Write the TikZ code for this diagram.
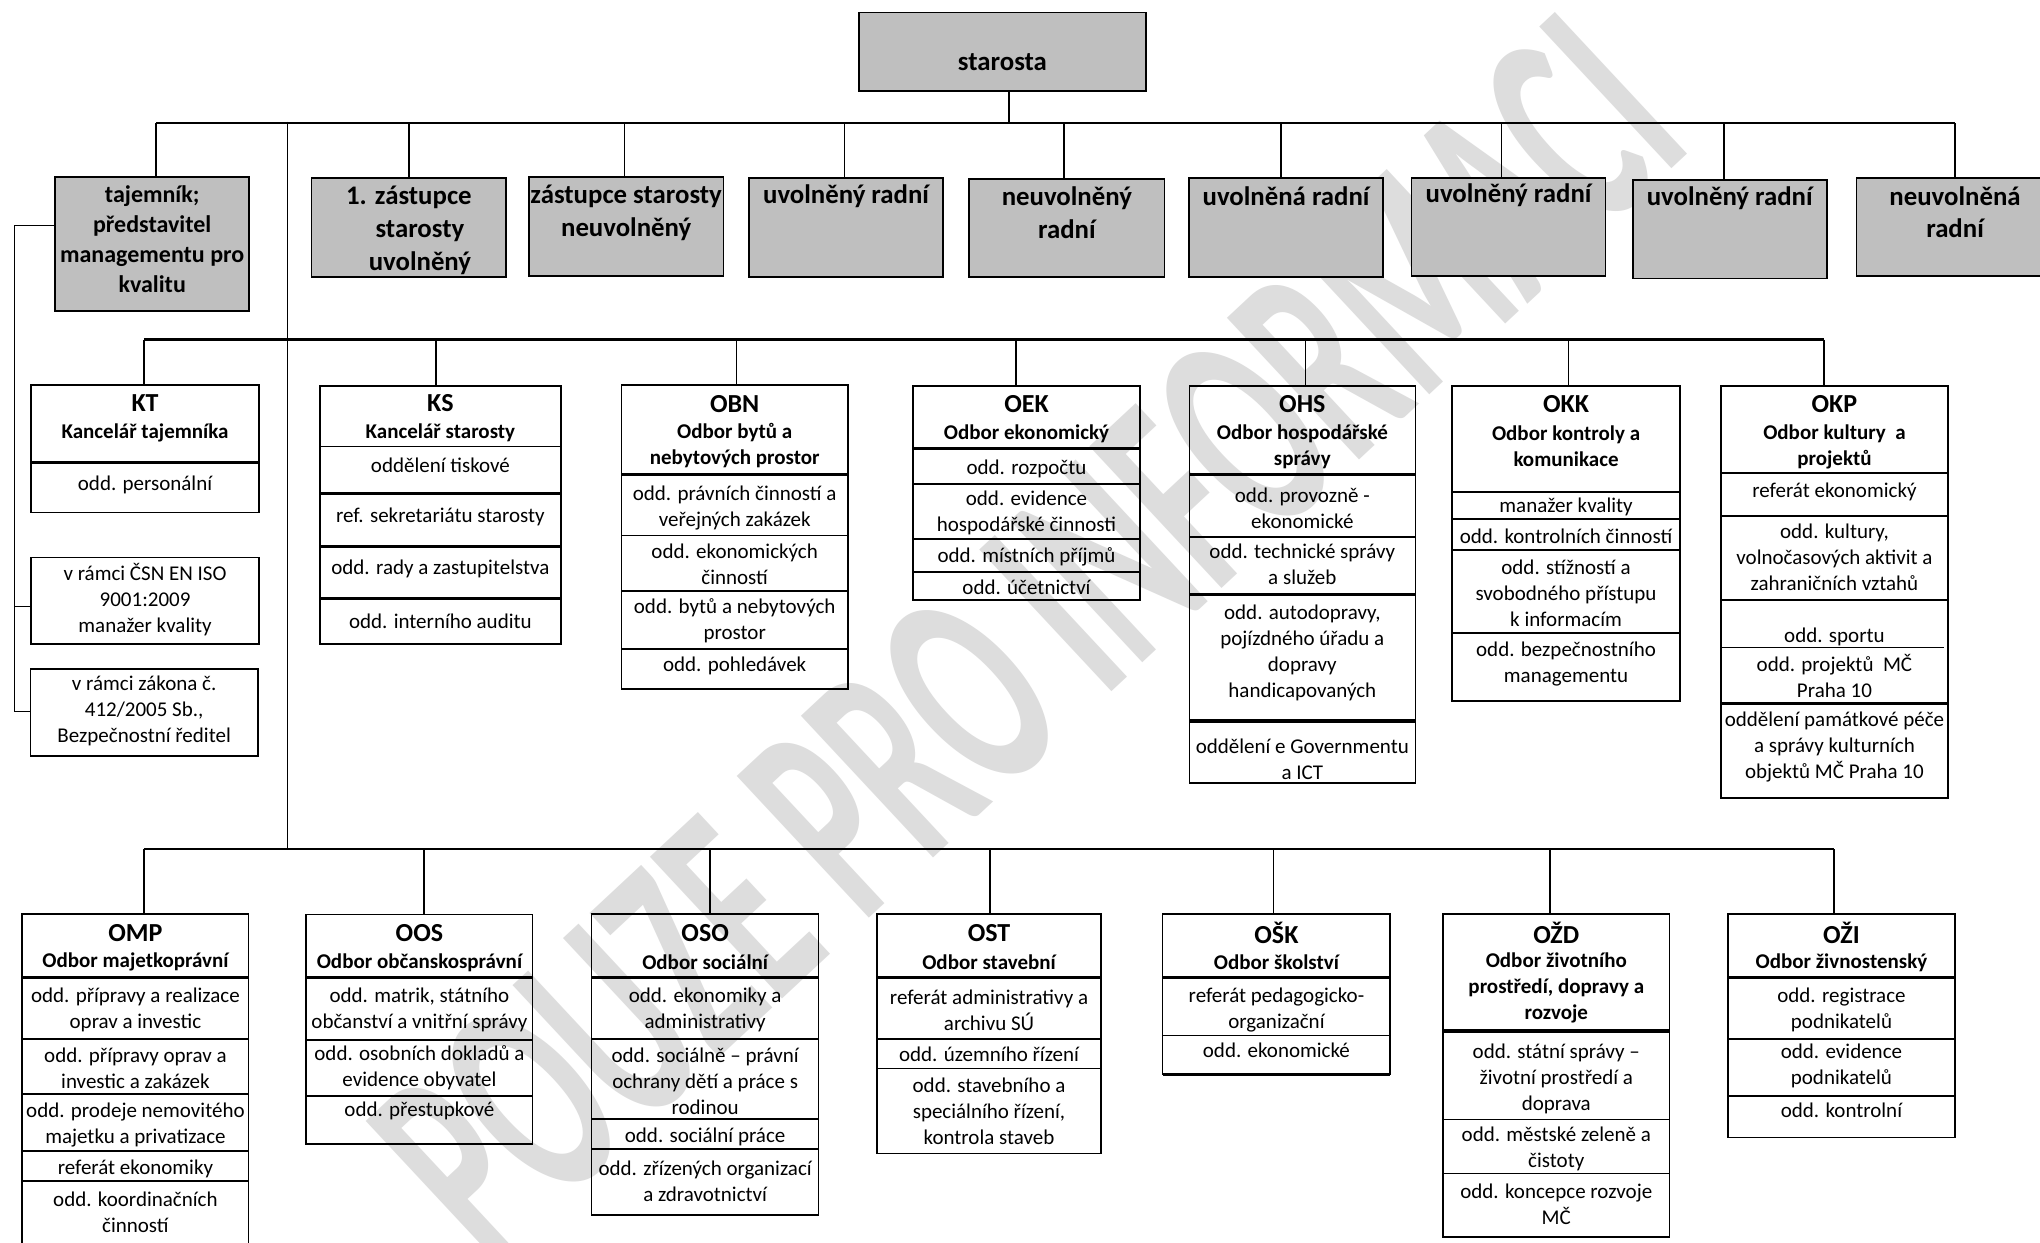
\documentclass[tikz,border=0pt]{standalone}
\usepackage{fontspec}
\setmainfont{Carlito}
\usetikzlibrary{fit}
\definecolor{boxgray}{RGB}{191,191,191}
\definecolor{wmgray}{RGB}{221,221,221}
\tikzset{
  box/.style={draw, line width=0.85pt, inner sep=0pt},
  gbox/.style={box, fill=boxgray},
  btx/.style={font=\fontsize{10.5}{13}\selectfont, align=center, inner sep=0pt},
  subtx/.style={font=\fontsize{10.5}{13}\selectfont\bfseries, align=center, inner sep=0pt},
  abbr/.style={font=\fontsize{13}{15}\selectfont\bfseries, inner sep=0pt},
  toptx/.style={font=\fontsize{13.4}{16.3}\selectfont\bfseries, align=center, inner sep=0pt},
  tajtx/.style={font=\fontsize{12}{15}\selectfont\bfseries, align=center, inner sep=0pt},
  thindiv/.style={line width=0.85pt},
  thickdiv/.style={line width=1.6pt},
  conn/.style={line width=0.75pt},
  bus/.style={line width=1.1pt},
  wm/.style={font=\fontsize{83}{83}\selectfont\bfseries, text=wmgray, rotate=43, yscale=1.8, inner sep=0pt}
}
\newcommand\dbox[6][box]{\node[#1, fit={(#3,#4) (#5,#6)}] (#2) {};}
\newcommand\dline[3]{\draw[thindiv] (#1,#3) -- (#2,#3);}
\newcommand\tline[3]{\draw[thickdiv] (#1,#3) -- (#2,#3);}
\newcommand\btext[4]{\node[btx] (#1) at (#2,#3) {#4};}
\newcommand\stext[4]{\node[subtx] (#1) at (#2,#3) {#4};}
\newcommand\atext[4]{\node[abbr] (#1) at (#2,#3) {#4};}
\begin{document}
\begin{tikzpicture}[x=0.6505pt,y=-0.6505pt]
\useasboundingbox (0,0) rectangle (1568,955);
\fill[white] (0,0) rectangle (1568,955);
\node[wm] (wm) at (790,490) {POUZE PRO INFORMACI};

% ---------------- top level ----------------
\dbox[gbox]{starosta}{660}{9.5}{881}{70}
\node[toptx] (starosta-t) at (770.5,48) {starosta};
\coordinate (tbL) at (120,94.5);
\coordinate (tbR) at (1502.7,94.5);
\draw[bus] (tbL) -- (tbR);
\coordinate (ts) at (775.6,94.5);
\draw[conn] (starosta.south -| ts) -- (ts);

\dbox[gbox]{taj}{42.5}{136}{191.5}{239}
\node[tajtx] (taj-t) at (117,184) {tajemník;\\představitel\\managementu pro\\kvalitu};
\dbox[gbox]{z1}{239.5}{137}{389}{213}
\node[toptx] (z1-t) at (314.3,177) {1. zástupce\\\hspace*{11pt}starosty\\\hspace*{11pt}uvolněný};
\dbox[gbox]{z2}{406.6}{136}{556}{212}
\node[toptx] (z2-t) at (481.3,163.5) {zástupce starosty\\neuvolněný};
\dbox[gbox]{r1}{575.6}{137}{725}{213}
\node[toptx] (r1-t) at (650.3,151) {uvolněný radní};
\dbox[gbox]{r2}{745}{137.6}{895}{213}
\node[toptx] (r2-t) at (820,163.5) {neuvolněný\\radní};
\dbox[gbox]{r3}{914}{137}{1063}{212.7}
\node[toptx] (r3-t) at (988.5,151) {uvolněná radní};
\dbox[gbox]{r4}{1085}{136.6}{1234}{212}
\node[toptx] (r4-t) at (1159.5,150) {uvolněný radní};
\dbox[gbox]{r5}{1255}{138.4}{1404}{214}
\node[toptx] (r5-t) at (1329.5,152.4) {uvolněný radní};
\dbox[gbox]{r6}{1427}{136.6}{1578}{212}
\node[toptx] (r6-t) at (1502.7,163.2) {neuvolněná\\radní};

\draw[conn] (tbL) -- (tbL |- taj.north);
\foreach \n/\x in {z1/314.5, z2/480, r1/649, r2/818, r3/984.5, r4/1154, r5/1325, r6/1502.7}{
  \coordinate (c-\n) at (\x,94.5);
  \draw[conn] (c-\n) -- (c-\n |- \n.north);
}

% vertical spine
\coordinate (vtop) at (221,93.5);
\coordinate (vbot) at (221,652.8);
\draw[conn] (vtop) -- (vbot);

% ---------------- middle level ----------------
\coordinate (mbL) at (110.5,261);
\coordinate (mbR) at (1402,261);
\draw[bus] (mbL) -- (mbR);

% KT
\dbox{kt}{24}{296}{199}{394}
\tline{24}{199}{355.4}
\atext{kt-a}{111.5}{310}{KT}
\stext{kt-s}{111.5}{333}{Kancelář tajemníka}
\btext{kt-1}{111.5}{373}{odd. personální}

\dbox{iso}{24}{428.4}{199}{495}
\btext{iso-t}{111.5}{460.5}{v rámci ČSN EN ISO\\9001:2009\\manažer kvality}
\dbox{zak}{23.4}{514}{198.3}{581}
\btext{zak-t}{110.8}{546.5}{v rámci zákona č.\\412/2005 Sb.,\\Bezpečnostní ředitel}

\coordinate (br1) at (11,173.5);
\coordinate (br2) at (11,547);
\coordinate (br3) at (11,466);
\draw[conn] (taj.west |- br1) -- (br1) -- (br2) -- (zak.west |- br2);
\draw[conn] (br3) -- (iso.west |- br3);

% KS
\dbox{ks}{246}{296.5}{431}{495}
\dline{246}{431}{343.3}
\tline{246}{431}{379.2}
\tline{246}{431}{420.2}
\tline{246}{431}{460}
\atext{ks-a}{338.5}{310}{KS}
\stext{ks-s}{338.5}{333}{Kancelář starosty}
\btext{ks-1}{338.5}{357.4}{oddělení tiskové}
\btext{ks-2}{338.5}{397}{ref. sekretariátu starosty}
\btext{ks-3}{338.5}{437.6}{odd. rady a zastupitelstva}
\btext{ks-4}{338.5}{477.8}{odd. interního auditu}

% OBN
\dbox{obn}{477.6}{296}{651.8}{529.8}
\tline{477.6}{651.8}{365}
\dline{477.6}{651.8}{411.7}
\dline{477.6}{651.8}{454}
\dline{477.6}{651.8}{499}
\atext{obn-a}{564.7}{310.8}{OBN}
\stext{obn-s}{564.7}{342.7}{Odbor bytů a\\nebytových prostor}
\btext{obn-1}{564.7}{390.5}{odd. právních činností a\\veřejných zakázek}
\btext{obn-2}{564.7}{434}{odd. ekonomických\\činností}
\btext{obn-3}{564.7}{477.5}{odd. bytů a nebytových\\prostor}
\btext{obn-4}{564.7}{511.7}{odd. pohledávek}

% OEK
\dbox{oek}{702}{296.5}{876.3}{461.2}
\tline{702}{876.3}{345}
\dline{702}{876.3}{372}
\dline{702}{876.3}{414.3}
\dline{702}{876.3}{439.4}
\atext{oek-a}{789}{310.8}{OEK}
\stext{oek-s}{789}{333.5}{Odbor ekonomický}
\btext{oek-1}{789}{360.5}{odd. rozpočtu}
\btext{oek-2}{789}{394.3}{odd. evidence\\hospodářské činnosti}
\btext{oek-3}{789}{428}{odd. místních příjmů}
\btext{oek-4}{789}{451.7}{odd. účetnictví}

% OHS
\dbox{ohs}{914.2}{296.5}{1088}{602}
\tline{914.2}{1088}{365}
\dline{914.2}{1088}{412.5}
\tline{914.2}{1088}{456.8}
\tline{914.2}{1088}{554.2}
\atext{ohs-a}{1001}{310.8}{OHS}
\stext{ohs-s}{1001}{343.2}{Odbor hospodářské\\správy}
\btext{ohs-1}{1001}{390.7}{odd. provozně -\\ekonomické}
\btext{ohs-2}{1001}{433.9}{odd. technické správy\\a služeb}
\btext{ohs-3}{1001}{501.5}{odd. autodopravy,\\pojízdného úřadu a\\dopravy\\handicapovaných}
\btext{ohs-4}{1001}{583.3}{oddělení e Governmentu\\a ICT}

% OKK
\dbox{okk}{1116.2}{296.5}{1291.3}{538.8}
\dline{1116.2}{1291.3}{377.9}
\dline{1116.2}{1291.3}{399}
\dline{1116.2}{1291.3}{422.8}
\dline{1116.2}{1291.3}{486.8}
\atext{okk-a}{1203.7}{310.8}{OKK}
\stext{okk-s}{1203.7}{343.2}{Odbor kontroly a\\komunikace}
\btext{okk-1}{1203.7}{389.5}{manažer kvality}
\btext{okk-2}{1203.7}{412.5}{odd. kontrolních činností}
\btext{okk-3}{1203.7}{456}{odd. stížností a\\svobodného přístupu\\k informacím}
\btext{okk-4}{1203.7}{510.5}{odd. bezpečnostního\\managementu}

% OKP
\dbox{okp}{1323}{296.5}{1497.2}{613.6}
\dline{1323}{1497.2}{363.8}
\dline{1323}{1497.2}{396.4}
\dline{1323}{1497.2}{461.2}
\draw[line width=0.6pt] (1323,497.5) -- (1494.5,497.5);
\tline{1323}{1497.2}{541}
\atext{okp-a}{1410}{310.8}{OKP}
\stext{okp-s}{1410}{343.2}{Odbor kultury~ a\\projektů}
\btext{okp-1}{1410}{378}{referát ekonomický}
\btext{okp-2}{1410}{428.6}{odd. kultury,\\volnočasových aktivit a\\zahraničních vztahů}
\btext{okp-3}{1410}{489.4}{odd. sportu}
\btext{okp-4}{1410}{519.2}{odd. projektů~ MČ\\Praha 10}
\btext{okp-5}{1410}{574.1}{oddělení památkové péče\\a správy kulturních\\objektů MČ Praha 10}

\foreach \n/\x in {kt/110.5, ks/335, obn/566.2, oek/781, ohs/1003.5, okk/1205.7, okp/1402}{
  \coordinate (m-\n) at (\x,261);
  \draw[conn] (m-\n) -- (m-\n |- \n.north);
}

% ---------------- bottom level ----------------
\coordinate (bbL) at (110.5,652.8);
\coordinate (bbR) at (1409.6,652.8);
\draw[bus] (bbL) -- (bbR);

% OMP
\dbox{omp}{17.1}{702.5}{191.1}{962}
\tline{17.1}{191.1}{751.5}
\dline{17.1}{191.1}{798.6}
\dline{17.1}{191.1}{840.9}
\dline{17.1}{191.1}{884.7}
\dline{17.1}{191.1}{907.5}
\atext{omp-a}{104.1}{717.4}{OMP}
\stext{omp-s}{104.1}{739.7}{Odbor majetkoprávní}
\btext{omp-1}{104.1}{776.6}{odd. přípravy a realizace\\oprav a investic}
\btext{omp-2}{104.1}{820.9}{odd. přípravy oprav a\\investic a zakázek}
\btext{omp-3}{104.1}{865}{odd. prodeje nemovitého\\majetku a privatizace}
\btext{omp-4}{104.1}{898.5}{referát ekonomiky}
\btext{omp-5}{104.1}{931.6}{odd. koordinačních\\činností}

% OOS
\dbox{oos}{235.4}{703}{409.4}{879.3}
\tline{235.4}{409.4}{751.5}
\dline{235.4}{409.4}{799.4}
\dline{235.4}{409.4}{842.4}
\atext{oos-a}{322.4}{717.4}{OOS}
\stext{oos-s}{322.4}{739.7}{Odbor občanskosprávní}
\btext{oos-1}{322.4}{776.6}{odd. matrik, státního\\občanství a vnitřní správy}
\btext{oos-2}{322.4}{820.9}{odd. osobních dokladů a\\evidence obyvatel}
\btext{oos-3}{322.4}{853.7}{odd. přestupkové}

% OSO
\dbox{oso}{454.7}{702.5}{629.2}{934}
\tline{454.7}{629.2}{751.5}
\dline{454.7}{629.2}{798.6}
\dline{454.7}{629.2}{860.1}
\dline{454.7}{629.2}{883.4}
\atext{oso-a}{542}{717.4}{OSO}
\stext{oso-s}{542}{739.7}{Odbor sociální}
\btext{oso-1}{542}{776.6}{odd. ekonomiky a\\administrativy}
\btext{oso-2}{542}{830.8}{odd. sociálně – právní\\ochrany dětí a práce s\\rodinou}
\btext{oso-3}{542}{873.7}{odd. sociální práce}
\btext{oso-4}{542}{907.6}{odd. zřízených organizací\\a zdravotnictví}

% OST
\dbox{ost}{674.1}{702.5}{846.2}{886.5}
\tline{674.1}{846.2}{751.5}
\dline{674.1}{846.2}{798.6}
\dline{674.1}{846.2}{821.2}
\atext{ost-a}{760.2}{717.4}{OST}
\stext{ost-s}{760.2}{739.7}{Odbor stavební}
\btext{ost-1}{760.2}{776.6}{referát administrativy a\\archivu SÚ}
\btext{ost-2}{760.2}{810.1}{odd. územního řízení}
\btext{ost-3}{760.2}{854}{odd. stavebního a\\speciálního řízení,\\kontrola staveb}

% OSK
\dbox{osk}{893.6}{702.5}{1068.6}{825.8}
\tline{893.6}{1068.6}{751.5}
\dline{893.6}{1068.6}{796}
\tline{893.6}{1068.6}{825.8}
\atext{osk-a}{981.1}{717.4}{OŠK}
\stext{osk-s}{981.1}{739.7}{Odbor školství}
\btext{osk-1}{981.1}{776.6}{referát pedagogicko-\\organizační}
\btext{osk-2}{981.1}{807}{odd. ekonomické}

% OZD
\dbox{ozd}{1109.1}{702.5}{1283.2}{951}
\tline{1109.1}{1283.2}{792.5}
\dline{1109.1}{1283.2}{860.4}
\dline{1109.1}{1283.2}{901.9}
\atext{ozd-a}{1196.2}{717.4}{OŽD}
\stext{ozd-s}{1196.2}{759.3}{Odbor životního\\prostředí, dopravy a\\rozvoje}
\btext{ozd-1}{1196.2}{829.1}{odd. státní správy –\\životní prostředí a\\doprava}
\btext{ozd-2}{1196.2}{882.7}{odd. městské zeleně a\\čistoty}
\btext{ozd-3}{1196.2}{926}{odd. koncepce rozvoje\\MČ}

% OZI
\dbox{ozi}{1328}{702.5}{1502.8}{874.2}
\tline{1328}{1502.8}{751.5}
\dline{1328}{1502.8}{798.6}
\dline{1328}{1502.8}{842.2}
\atext{ozi-a}{1415.4}{717.4}{OŽI}
\stext{ozi-s}{1415.4}{739.7}{Odbor živnostenský}
\btext{ozi-1}{1415.4}{776}{odd. registrace\\podnikatelů}
\btext{ozi-2}{1415.4}{819.6}{odd. evidence\\podnikatelů}
\btext{ozi-3}{1415.4}{853.2}{odd. kontrolní}

\foreach \n/\x in {omp/110.5, oos/326, oso/545.6, ost/761, osk/978.8, ozd/1191.2, ozi/1409.6}{
  \coordinate (b-\n) at (\x,652.8);
  \draw[conn] (b-\n) -- (b-\n |- \n.north);
}
\end{tikzpicture}
\end{document}
